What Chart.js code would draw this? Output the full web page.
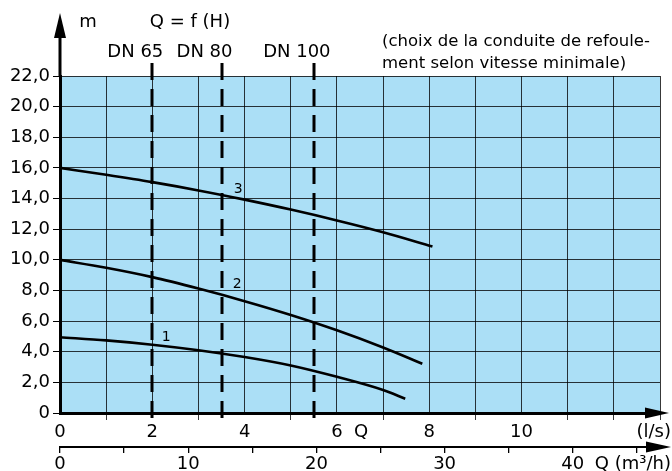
<!DOCTYPE html>
<html><head><meta charset="utf-8">
<script src="https://cdn.jsdelivr.net/npm/chart.js@4"></script>
<style>html,body{margin:0;padding:0;background:#fff}#wrap{width:672px;height:471px}</style>
</head><body><div id="wrap"><canvas id="c" width="672" height="471"></canvas></div>
<script>
// ---- data (Q in l/s, H in m) ----
const qCurve1 = [0, 1, 2, 3, 4, 5, 6, 7, 7.48];
const hCurve1 = [4.95, 4.74, 4.46, 4.1, 3.65, 3.1, 2.36, 1.5, 0.93];
const qCurve2 = [0, 1, 2, 3, 4, 5, 6, 7, 7.85];
const hCurve2 = [10.0, 9.48, 8.87, 8.12, 7.3, 6.4, 5.4, 4.28, 3.22];
const qCurve3 = [0, 1, 2, 3, 4, 5, 6, 7, 8.07];
const hCurve3 = [16.0, 15.55, 15.07, 14.53, 13.93, 13.28, 12.57, 11.8, 10.87];
const curveNames = ['1', '2', '3'];
const dnLabels = ['DN 65', 'DN 80', 'DN 100'];
const dnQ = [2, 3.5, 5.5];
const xTickLabels = [0, 2, 4, 6, 8, 10];      // l/s
const x2TickLabels = [0, 10, 20, 30, 40];     // m3/h
const yMin = 0, yMax = 22, yStep = 2;
const xMin = 0, xMax = 13, xStep = 1;
const m3hPerLs = 3.6;
// curve number anchors (Q, H)
const curveLabelQ = [2.3, 3.84, 3.86];
const curveLabelH = [4.91, 8.37, 14.57];

const FONT = "'DejaVu Sans', sans-serif";
const BLUE = 'rgb(171,223,246)';
const GRID = 'rgba(0,0,0,0.78)';

const pts = (qs, hs) => qs.map((q, i) => ({x: q, y: hs[i]}));
const curves = [pts(qCurve1, hCurve1), pts(qCurve2, hCurve2), pts(qCurve3, hCurve3)];

const deco = {
  id: 'deco',
  beforeDraw(chart) {
    const {ctx, chartArea: a} = chart;
    ctx.save();
    ctx.fillStyle = BLUE;
    ctx.fillRect(a.left, a.top, a.right - a.left, a.bottom - a.top);
    ctx.restore();
  },
  afterDraw(chart) {
    const {ctx, chartArea: a, scales} = chart;
    const x = scales.x, y = scales.y, x2 = scales.x2;
    ctx.save();
    // DN dashed lines
    ctx.strokeStyle = '#000';
    ctx.lineWidth = 3;
    ctx.setLineDash([17, 9]);
    dnQ.forEach(q => {
      const px = Math.round(x.getPixelForValue(q));
      ctx.beginPath();
      ctx.moveTo(px, a.top - 13);
      ctx.lineTo(px, a.bottom + 5);
      ctx.stroke();
    });
    ctx.setLineDash([]);
    // axis arrows
    ctx.fillStyle = '#000';
    ctx.lineWidth = 3;
    // y axis
    ctx.beginPath(); ctx.moveTo(a.left, a.top + 1); ctx.lineTo(a.left, 36); ctx.stroke();
    ctx.beginPath(); ctx.moveTo(a.left, 13); ctx.lineTo(a.left - 6, 38); ctx.lineTo(a.left + 6, 38); ctx.closePath(); ctx.fill();
    // x axis (l/s)
    const yb = a.bottom;
    ctx.beginPath(); ctx.moveTo(a.right - 1, yb); ctx.lineTo(648, yb); ctx.stroke();
    ctx.beginPath(); ctx.moveTo(669, yb); ctx.lineTo(645, yb - 5.5); ctx.lineTo(645, yb + 5.5); ctx.closePath(); ctx.fill();
    // x2 axis (m3/h)
    const y2 = Math.round(x2.top);
    ctx.lineWidth = 2;
    ctx.beginPath(); ctx.moveTo(a.right - 1, y2); ctx.lineTo(648, y2); ctx.stroke();
    ctx.beginPath(); ctx.moveTo(671, y2); ctx.lineTo(646, y2 - 5.5); ctx.lineTo(646, y2 + 5.5); ctx.closePath(); ctx.fill();

    // texts
    ctx.fillStyle = '#000';
    ctx.textBaseline = 'middle';
    ctx.font = '18px ' + FONT;
    ctx.textAlign = 'center';
    ctx.fillText('m', 88, 22);
    ctx.fillText('Q = f (H)', 190, 22);
    dnLabels.forEach((t, i) => {
      ctx.fillText(t, x.getPixelForValue(dnQ[i]) - 17, 52);
    });
    ctx.textAlign = 'left';
    ctx.font = '16.5px ' + FONT;
    ctx.fillText('(choix de la conduite de refoule-', 382, 42);
    ctx.fillText('ment selon vitesse minimale)', 382, 64);
    ctx.font = '18px ' + FONT;
    ctx.textAlign = 'center';
    ctx.fillText('Q', 361, 432);
    ctx.textAlign = 'right';
    ctx.fillText('(l/s)', 671, 432);
    ctx.fillText('Q (m\u00B3/h)', 671, 464);
    // curve numbers
    ctx.textAlign = 'center';
    ctx.font = '14px ' + FONT;
    curveNames.forEach((t, i) => {
      ctx.fillText(t, x.getPixelForValue(curveLabelQ[i]), y.getPixelForValue(curveLabelH[i]));
    });
    ctx.restore();
  }
};

Chart.defaults.font.family = FONT;
Chart.defaults.color = '#000';

new Chart(document.getElementById('c'), {
  type: 'scatter',
  data: {
    datasets: curves.map((d, i) => ({
      label: curveNames[i],
      data: d,
      showLine: true,
      borderColor: '#000',
      borderWidth: 2.6,
      pointRadius: 0,
      cubicInterpolationMode: 'monotone',
      fill: false
    }))
  },
  options: {
    responsive: false,
    animation: false,
    devicePixelRatio: 1,
    layout: {padding: {top: 76, right: 12, left: 0, bottom: 0}},
    plugins: {legend: {display: false}, tooltip: {enabled: false}},
    scales: {
      x: {
        type: 'linear', position: 'bottom', min: xMin, max: xMax,
        afterFit: s => { s.height = 34; },
        ticks: {
          stepSize: xStep, maxRotation: 0, autoSkip: false, padding: 3,
          font: {size: 18, lineHeight: 1},
          callback: v => xTickLabels.includes(v) ? String(v) : ''
        },
        grid: {
          color: GRID, lineWidth: 1, tickLength: 7, drawTicks: true,
          tickColor: c => (c.tick && xTickLabels.includes(c.tick.value)) ? 'rgba(0,0,0,0)' : GRID
        },
        border: {display: true, color: '#000', width: 3}
      },
      x2: {
        type: 'linear', position: 'bottom', min: 0, max: xMax * m3hPerLs,
        afterFit: s => { s.height = 24; },
        ticks: {
          stepSize: 5, includeBounds: false, maxRotation: 0, autoSkip: false, padding: 2,
          font: {size: 18, lineHeight: 1},
          callback: v => x2TickLabels.includes(v) ? String(v) : ''
        },
        grid: {drawOnChartArea: false, drawTicks: true, tickLength: 6, tickColor: '#000', lineWidth: 1.3},
        border: {display: true, color: '#000', width: 2}
      },
      y: {
        type: 'linear', position: 'left', min: yMin, max: yMax,
        afterFit: s => { s.width = 60; },
        ticks: {
          stepSize: yStep, padding: 3,
          font: {size: 18, lineHeight: 1},
          callback: v => v === 0 ? '0' : v.toFixed(1).replace('.', ',')
        },
        grid: {color: GRID, lineWidth: 1, tickLength: 7, tickColor: '#000'},
        border: {display: true, color: '#000', width: 3}
      }
    }
  },
  plugins: [deco]
});
</script>
</body></html>
